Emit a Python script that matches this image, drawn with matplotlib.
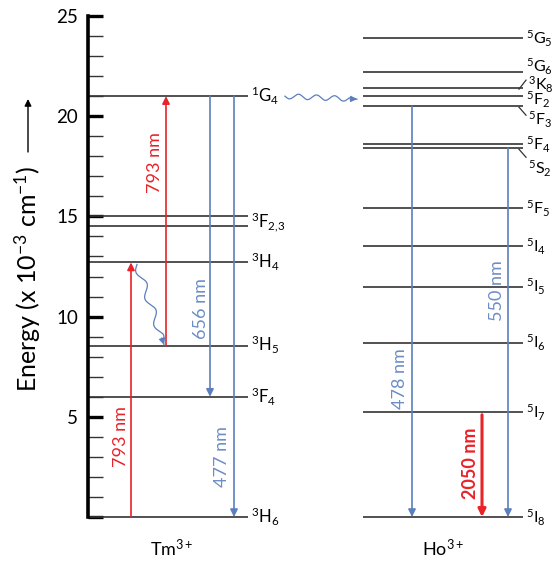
import numpy as np
import matplotlib.pyplot as plt

plt.rcParams['font.family'] = ['Lato', 'DejaVu Sans']
plt.rcParams['mathtext.fontset'] = 'custom'
plt.rcParams['mathtext.rm'] = 'Lato'
plt.rcParams['mathtext.it'] = 'Lato:italic'
plt.rcParams['mathtext.bf'] = 'Lato:bold'

# energy levels, x 10^3 cm^-1
tm_energy = [0.0, 6.0, 8.55, 12.7, 14.5, 15.0, 21.0]
tm_label_energy = [0.0, 6.0, 8.55, 12.7, 14.75, 21.0]
tm_label_text = ['$^3$H$_6$', '$^3$F$_4$', '$^3$H$_5$', '$^3$H$_4$', '$^3$F$_{2{,}3}$', '$^1$G$_4$']

ho_energy = [0.0, 5.25, 8.7, 11.5, 13.5, 15.4, 18.4, 18.6, 20.5, 21.0, 21.4, 22.2, 23.9]
ho_label_text = ['$^5$I$_8$', '$^5$I$_7$', '$^5$I$_6$', '$^5$I$_5$', '$^5$I$_4$', '$^5$F$_5$',
                 '$^5$S$_2$', '$^5$F$_4$', '$^5$F$_3$', '$^5$F$_2$', '$^3$K$_8$', '$^5$G$_6$', '$^5$G$_5$']
# label shift in pixels (down is positive) and whether a small leader line is drawn
ho_label_shift = [0, 0, 0, 0, 0, 0, 20, 0, 13, 3, -4, -6, 0]
ho_label_leader = [0, 0, 0, 0, 0, 0, 1, 0, 1, 0, -1, 0, 0]

# transitions: wavelength, start level, end level
tm_wavelengths = ['793 nm', '793 nm', '656 nm', '477 nm']
tm_start = [0.0, 8.55, 21.0, 21.0]
tm_end = [12.7, 21.0, 6.0, 0.0]
ho_wavelengths = ['478 nm', '550 nm', '2050 nm']
ho_start = [20.5, 18.4, 5.1]
ho_end = [0.0, 0.0, 0.0]

RED = '#e8232a'
BLUE = '#5b7fbd'
BLUE_TXT = '#6c8dc6'
LEVEL = '#333333'
PX = 501 / 25.0   # pixels per energy unit

fig = plt.figure(figsize=(5.52, 5.69), dpi=100)
ax = fig.add_axes([88 / 552, 1 - 517 / 569, 1 - 88 / 552, 501 / 569])
ax.set_xlim(88, 552)
ax.set_ylim(0, 25)
ax.patch.set_visible(False)
for s in ['top', 'right', 'bottom']:
    ax.spines[s].set_visible(False)
ax.spines['left'].set_linewidth(2.6)
ax.set_xticks([])
ax.set_yticks(range(0, 26, 5))
ax.set_yticklabels([''] + [str(v) for v in range(5, 26, 5)])
ax.set_yticks(range(0, 26), minor=True)
ax.tick_params(axis='y', which='major', direction='in', length=10.5, width=2.4,
               pad=7, labelsize=13.5)
ax.tick_params(axis='y', which='minor', direction='in', length=10.5, width=1.0, color='#333333')

# levels
tm_x0, tm_x1 = 88, 248
ho_x0, ho_x1 = 363, 523
for e in tm_energy:
    ax.plot([tm_x0, tm_x1], [e, e], color=LEVEL, lw=1.2, clip_on=False, solid_capstyle='butt')
for e in ho_energy:
    ax.plot([ho_x0, ho_x1], [e, e], color=LEVEL, lw=1.2, clip_on=False, solid_capstyle='butt')

for e, t in zip(tm_label_energy, tm_label_text):
    ax.annotate(t, (tm_x1, e), xytext=(2.5, -4.4), textcoords='offset points',
                fontsize=12, va='baseline', ha='left', annotation_clip=False)

for e, t, dy, ld in zip(ho_energy, ho_label_text, ho_label_shift, ho_label_leader):
    dx = 2 if ld == 0 else 3.5
    ax.annotate(t, (ho_x1, e), xytext=(dx, -4.4 - dy * 0.72), textcoords='offset points',
                fontsize=11.5, va='baseline', ha='left', annotation_clip=False)
    if ld != 0:
        ax.plot([ho_x1 - 4, ho_x1 + 3], [e - 0.05, e - ld * 0.4 - (0.05 if ld > 0 else 0)],
                color=LEVEL, lw=0.9, clip_on=False)


def arrow(x, e0, e1, color, lw=1.2):
    ax.annotate('', xy=(x, e1), xytext=(x, e0),
                arrowprops=dict(arrowstyle='-|>', color=color, lw=lw,
                                mutation_scale=11, shrinkA=0, shrinkB=0),
                annotation_clip=False)


tm_arrow_x = [131, 166, 210, 234]
tm_text_pos = [(121, 4.0), (155, 17.7), (201, 10.4), (222, 3.0)]
tm_colors = [RED, RED, BLUE, BLUE]
tm_text_colors = [RED, RED, BLUE_TXT, BLUE_TXT]
for x, a, b, c, tc, w, (tx, ty) in zip(tm_arrow_x, tm_start, tm_end, tm_colors,
                                        tm_text_colors, tm_wavelengths, tm_text_pos):
    arrow(x, a, b, c)
    ax.text(tx, ty, w, rotation=90, color=tc, fontsize=13, ha='center', va='center')

ho_arrow_x = [412, 508, 482]
ho_text_pos = [(400, 6.9), (497, 11.3), (470, 2.7)]
ho_colors = [BLUE, BLUE, RED]
ho_text_colors = [BLUE_TXT, BLUE_TXT, RED]
ho_weight = ['normal', 'normal', 'bold']
ho_lw = [1.2, 1.2, 2.2]
for x, a, b, c, tc, w, (tx, ty), fw, lw in zip(ho_arrow_x, ho_start, ho_end, ho_colors,
                                                ho_text_colors, ho_wavelengths, ho_text_pos,
                                                ho_weight, ho_lw):
    arrow(x, a, b, c, lw)
    ax.text(tx, ty, w, rotation=90, color=tc, fontsize=13, ha='center', va='center',
            fontweight=fw)


def wavy(x0, e0, x1, e1, periods, amp):
    # straight path in pixel space with a sine wiggle across it
    y0, y1 = -e0 * PX, -e1 * PX
    t = np.linspace(0, 1, 200)
    dx, dy = x1 - x0, y1 - y0
    n = np.hypot(dx, dy)
    w = amp * np.sin(2 * np.pi * periods * t) * np.minimum(1, (1 - t) * 8)
    px = x0 + dx * t - dy / n * w
    py = y0 + dy * t + dx / n * w
    ax.plot(px, -py / PX, color=BLUE, lw=0.9, clip_on=False)
    bx, by = x1 - dx / n * 7, y1 - dy / n * 7
    ax.annotate('', xy=(x1, e1), xytext=(bx, -by / PX),
                arrowprops=dict(arrowstyle='-|>', color=BLUE, lw=0.9,
                                mutation_scale=9, shrinkA=0, shrinkB=0),
                annotation_clip=False)


wavy(137, 12.6, 164, 8.6, 3.0, 3.5)
wavy(285, 21.0, 357, 20.85, 4, 2.5)

ax.text((tm_x0 + tm_x1) / 2 + 4, -1.55, 'Tm$^{3+}$', fontsize=13, ha='center', va='center')
ax.text((ho_x0 + ho_x1) / 2, -1.55, 'Ho$^{3+}$', fontsize=13, ha='center', va='center')

fig.text(28 / 552, 1 - 279 / 569, 'Energy (x 10$^{-3}$ cm$^{-1}$)', rotation=90,
         fontsize=18, ha='center', va='center')
ax.annotate('', xy=(28 / 552, 1 - 99 / 569), xytext=(28 / 552, 1 - 152 / 569),
            xycoords='figure fraction', textcoords='figure fraction',
            arrowprops=dict(arrowstyle='-|>', color='black', lw=1.0,
                            mutation_scale=10, shrinkA=0, shrinkB=0),
            annotation_clip=False)

fig.savefig('out.png', dpi=100)
